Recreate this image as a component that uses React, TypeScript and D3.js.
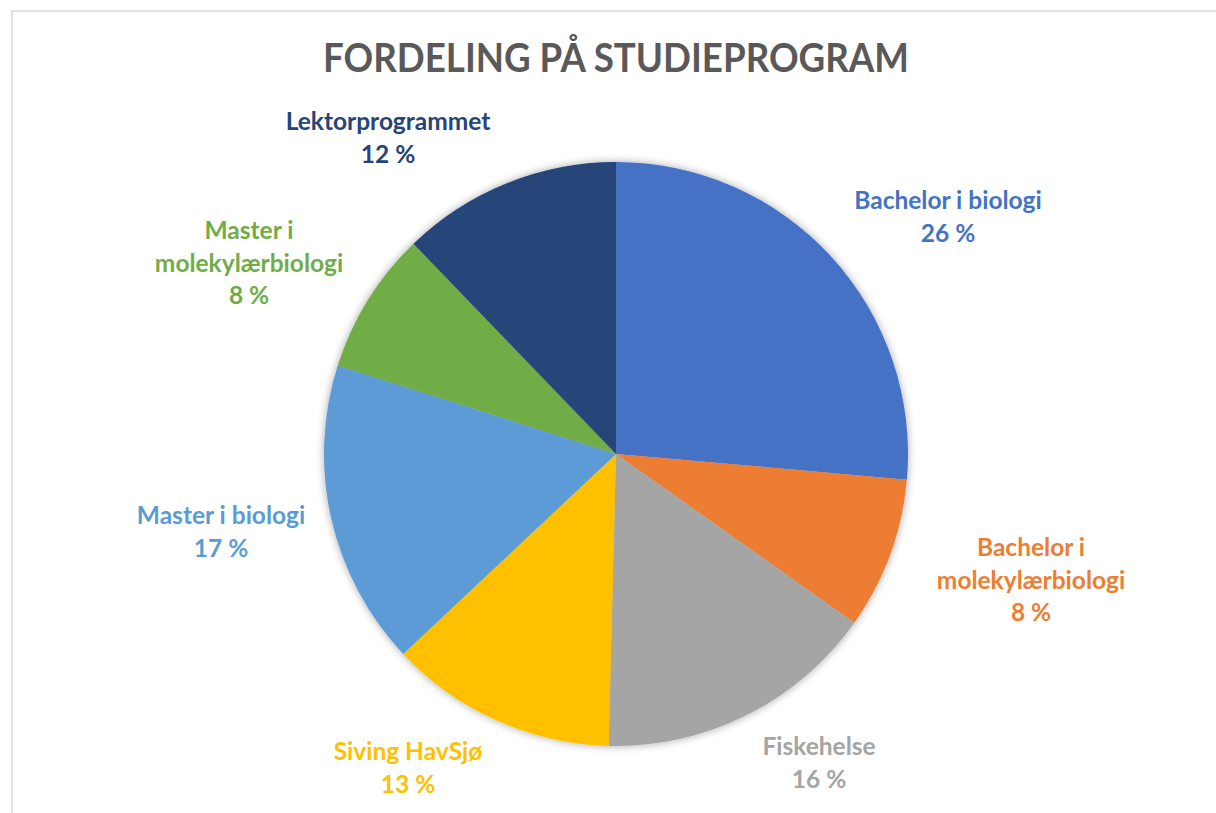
import React from "react";
import * as d3 from "d3";

const categories = [
  "Bachelor i biologi",
  "Bachelor i molekylærbiologi",
  "Fiskehelse",
  "Siving HavSjø",
  "Master i biologi",
  "Master i molekylærbiologi",
  "Lektorprogrammet",
];
const values = [26.4, 8.4, 15.6, 12.6, 16.9, 7.9, 12.2];
const labelLines = [
  ["Bachelor i biologi"],
  ["Bachelor i", "molekylærbiologi"],
  ["Fiskehelse"],
  ["Siving HavSjø"],
  ["Master i biologi"],
  ["Master i", "molekylærbiologi"],
  ["Lektorprogrammet"],
];
const colors = ["#4472C4", "#ED7D31", "#A5A5A5", "#FFC000", "#5B9BD5", "#70AD47", "#264478"];
// label block centre offsets relative to pie centre (layout)
const labelOffsets: [number, number][] = [
  [332, -237],
  [415, 126],
  [203, 309],
  [-208, 314],
  [-395, 78],
  [-367, -191],
  [-228, -316],
];
const title = "FORDELING PÅ STUDIEPROGRAM";

const W = 1216;
const H = 813;
const cx = 616;
const cy = 454;
const R = 292;
const FONT = "Lato, 'Open Sans', sans-serif";

export default function App() {
  const pie = d3.pie<number>().sort(null).value((d) => d);
  const arcs = pie(values);
  const arcGen = d3.arc<d3.PieArcDatum<number>>().innerRadius(0).outerRadius(R);
  const total = d3.sum(values);
  const lineH = 32.5;

  return (
    <svg
      width={W}
      height={H}
      style={{ position: "absolute", left: 0, top: 0, background: "#fff" }}
    >
      <defs>
        <filter id="sh" x="-20%" y="-20%" width="140%" height="140%">
          <feGaussianBlur in="SourceAlpha" stdDeviation="4" />
          <feOffset dx="0" dy="0" result="b" />
          <feComponentTransfer>
            <feFuncA type="linear" slope="0.35" />
          </feComponentTransfer>
          <feMerge>
            <feMergeNode />
            <feMergeNode in="SourceGraphic" />
          </feMerge>
        </filter>
      </defs>
      <rect x={0} y={0} width={W} height={H} fill="#fff" />
      <rect x={12} y={11} width={W + 100} height={H + 100} fill="none" stroke="#d9d9d9" strokeWidth={1.5} />
      <text
        x={cx}
        y={72}
        textAnchor="middle"
        fontFamily={FONT}
        fontWeight="bold"
        fontSize={41}
        fill="#595959"
        textLength={586}
        lengthAdjust="spacingAndGlyphs"
      >
        {title}
      </text>
      <g transform={`translate(${cx},${cy})`} filter="url(#sh)">
        {arcs.map((a, i) => (
          <path key={categories[i]} d={arcGen(a) || ""} fill={colors[i]} />
        ))}
      </g>
      <g transform={`translate(${cx},${cy})`}>
        {arcs.map((a, i) => {
          const lines = [...labelLines[i], `${Math.round((a.value / total) * 100)} %`];
          const [ox, oy] = labelOffsets[i];
          const y0 = oy - ((lines.length - 1) * lineH) / 2;
          return (
            <text
              key={categories[i]}
              textAnchor="middle"
              fontFamily={FONT}
              fontWeight="bold"
              fontSize={24.5}
              fill={colors[i]}
            >
              {lines.map((l, j) => (
                <tspan key={j} x={ox} y={y0 + j * lineH} dy="0.35em">
                  {l}
                </tspan>
              ))}
            </text>
          );
        })}
      </g>
    </svg>
  );
}
